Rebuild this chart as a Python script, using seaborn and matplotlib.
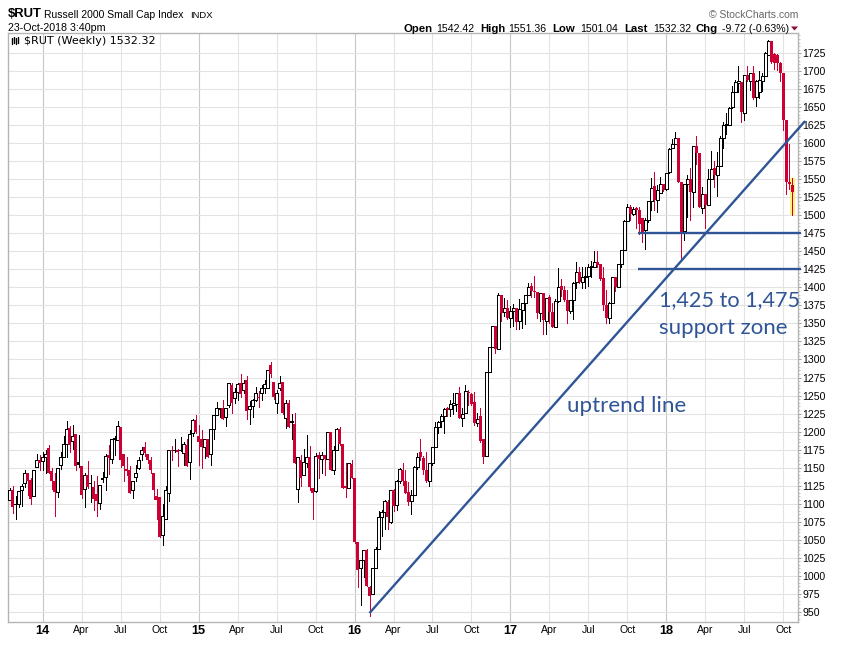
import numpy as np
import pandas as pd
import matplotlib
matplotlib.use("Agg")
import matplotlib.pyplot as plt
from matplotlib.ticker import MultipleLocator
from matplotlib.lines import Line2D
from matplotlib.patches import Polygon
import seaborn as sns

opens = [
1105,1119,1099,1100,1119,1128,1143,1133,1111,1151,
1161,1159,1164,1177,1145,1131,1116,1153,1165,1183,
1205,1187,1197,1158,1152,1120,1140,1129,1123,1113,
1101,1135,1137,1167,1162,1189,1188,1206,1169,1148,
1146,1119,1137,1149,1169,1178,1169,1161,1143,1111,
1109,1056,1079,1114,1175,1174,1174,1174,1170,1181,
1158,1198,1216,1194,1189,1179,1189,1169,1203,1223,
1231,1233,1220,1237,1265,1247,1255,1267,1258,1271,
1231,1236,1244,1248,1253,1260,1260,1292,1269,1240,
1260,1269,1219,1239,1213,1210,1120,1161,1140,1157,
1165,1122,1117,1167,1162,1167,1162,1200,1147,1175,
1203,1183,1124,1122,1155,1135,1047,1010,1021,1035,
984,974,1011,1037,1082,1088,1102,1074,1119,1098,
1131,1147,1132,1116,1104,1112,1151,1172,1163,1147,
1132,1156,1179,1206,1214,1221,1232,1231,1237,1238,
1253,1219,1226,1255,1252,1241,1212,1221,1189,1166,
1283,1318,1347,1315,1389,1366,1372,1357,1368,1372,
1353,1369,1378,1390,1402,1395,1394,1365,1392,1353,
1387,1366,1345,1381,1402,1397,1383,1368,1382,1407,
1422,1407,1414,1416,1429,1429,1436,1432,1413,1375,
1357,1378,1414,1401,1433,1452,1492,1511,1502,1510,
1508,1496,1480,1493,1520,1541,1522,1531,1544,1536,
1560,1593,1599,1608,1546,1479,1543,1550,1532,1597,
1587,1510,1530,1514,1551,1566,1556,1568,1607,1625,
1626,1650,1672,1684,1685,1642,1695,1687,1697,1664,
1672,1687,1694,1722,1742,1724,1723,1712,1698,1632,
1547,1542.42]
closes = [
1119,1095,1100,1117,1125,1143,1131,1107,1147,1161,
1156,1165,1169,1143,1131,1116,1150,1165,1183,1204,
1181,1194,1152,1154,1112,1139,1123,1127,1107,1104,
1126,1133,1166,1163,1189,1191,1208,1160,1152,1145,
1115,1132,1142,1161,1175,1170,1161,1146,1119,1105,
1054,1083,1119,1174,1173,1175,1172,1175,1183,1152,
1196,1216,1199,1185,1178,1189,1165,1204,1223,1232,
1233,1217,1233,1267,1240,1255,1266,1252,1268,1229,
1236,1244,1253,1246,1261,1266,1285,1280,1248,1253,
1268,1226,1239,1206,1214,1157,1164,1135,1158,1165,
1123,1115,1166,1162,1167,1162,1200,1146,1175,1203,
1183,1122,1121,1156,1135,1046,1008,1021,1036,985,
972,1011,1037,1082,1088,1103,1081,1119,1097,1132,
1148,1131,1115,1102,1112,1151,1165,1164,1146,1132,
1157,1178,1206,1213,1221,1231,1230,1238,1239,1253,
1219,1225,1256,1253,1238,1212,1218,1187,1164,1283,
1317,1347,1315,1389,1365,1372,1357,1368,1372,1352,
1370,1378,1389,1400,1395,1394,1365,1392,1355,1386,
1366,1345,1381,1401,1397,1382,1368,1382,1406,1422,
1407,1415,1416,1429,1430,1436,1431,1412,1375,1357,
1378,1414,1400,1432,1452,1492,1511,1502,1509,1507,
1488,1475,1493,1520,1538,1521,1535,1544,1535,1559,
1592,1599,1607,1546,1477,1544,1550,1532,1597,1586,
1511,1530,1514,1550,1564,1556,1569,1607,1626,1627,
1649,1672,1685,1686,1643,1695,1688,1697,1663,1687,
1688,1693,1726,1742,1713,1712,1711,1697,1632,1546,
1543,1532.32]
highs = [
1122,1124,1110,1117,1127,1147,1143,1135,1147,1169,
1167,1171,1174,1182,1149,1142,1150,1171,1194,1214,
1207,1209,1197,1195,1152,1142,1159,1139,1132,1138,
1126,1144,1169,1181,1189,1194,1214,1206,1169,1164,
1152,1132,1153,1165,1178,1185,1169,1164,1143,1120,
1109,1100,1124,1175,1180,1189,1176,1192,1185,1189,
1202,1218,1223,1209,1202,1189,1189,1204,1223,1241,
1233,1244,1233,1268,1268,1261,1267,1280,1271,1277,
1243,1245,1262,1256,1264,1272,1286,1296,1269,1258,
1277,1269,1244,1244,1225,1226,1165,1167,1176,1195,
1180,1122,1170,1172,1171,1167,1200,1200,1180,1205,
1206,1183,1156,1157,1161,1135,1047,1022,1036,1037,
985,1011,1040,1090,1091,1105,1105,1119,1120,1133,
1149,1157,1146,1130,1119,1152,1170,1190,1166,1172,
1157,1179,1213,1215,1225,1233,1234,1244,1253,1253,
1262,1233,1264,1257,1254,1255,1226,1232,1190,1283,
1317,1347,1347,1393,1389,1386,1382,1374,1377,1372,
1384,1378,1390,1406,1406,1416,1394,1393,1392,1386,
1389,1378,1384,1427,1412,1402,1397,1383,1407,1435,
1429,1429,1428,1432,1437,1450,1450,1433,1429,1396,
1380,1415,1414,1432,1452,1493,1516,1514,1512,1512,
1512,1496,1496,1520,1552,1560,1542,1553,1544,1559,
1593,1606,1616,1608,1546,1544,1556,1566,1597,1610,
1587,1540,1530,1564,1590,1576,1588,1610,1629,1642,
1651,1680,1688,1708,1685,1695,1708,1697,1708,1688,
1700,1697,1727,1743,1742,1726,1724,1713,1698,1632,
1599,1551.36]
lows = [
1105,1087,1079,1095,1097,1123,1112,1100,1111,1151,
1146,1146,1143,1142,1120,1083,1109,1148,1165,1165,
1171,1176,1146,1151,1108,1095,1122,1102,1091,1083,
1092,1130,1119,1141,1156,1168,1188,1151,1131,1139,
1114,1108,1131,1148,1161,1166,1156,1143,1107,1079,
1054,1042,1079,1104,1160,1171,1152,1173,1154,1152,
1134,1194,1198,1153,1150,1163,1165,1154,1190,1223,
1220,1217,1207,1234,1226,1240,1244,1248,1253,1217,
1211,1220,1243,1234,1244,1253,1260,1276,1245,1226,
1258,1225,1205,1206,1190,1156,1102,1125,1140,1151,
1119,1079,1116,1135,1143,1140,1162,1146,1141,1175,
1182,1122,1109,1121,1135,1045,984,959,998,985,
944,974,1011,1037,1055,1065,1065,1073,1090,1091,
1128,1126,1114,1098,1085,1112,1148,1161,1141,1130,
1125,1153,1179,1198,1206,1198,1221,1221,1225,1228,
1219,1207,1226,1237,1237,1209,1207,1186,1156,1166,
1283,1317,1309,1315,1354,1361,1356,1345,1346,1343,
1342,1344,1349,1389,1387,1387,1357,1354,1336,1335,
1350,1345,1345,1380,1388,1381,1351,1364,1356,1399,
1406,1399,1399,1402,1415,1429,1429,1411,1369,1351,
1351,1378,1395,1400,1428,1452,1492,1493,1500,1482,
1474,1463,1454,1491,1507,1507,1505,1531,1534,1535,
1559,1593,1599,1546,1438,1466,1498,1494,1512,1572,
1511,1503,1482,1514,1551,1540,1527,1568,1593,1613,
1625,1649,1672,1672,1630,1632,1687,1674,1662,1652,
1663,1673,1693,1722,1712,1703,1702,1687,1618,1530,
1537,1501.04]

tick_weeks = [11, 24, 37, 50, 63, 76, 89, 102, 115, 128, 141, 154, 167, 180, 193, 206, 219, 232, 245, 258]
tick_labels = ["14", "Apr", "Jul", "Oct", "15", "Apr", "Jul", "Oct", "16", "Apr", "Jul", "Oct",
               "17", "Apr", "Jul", "Oct", "18", "Apr", "Jul", "Oct"]
trend_weeks = [120.0, 265.2]
trend_prices = [948, 1631]
support_weeks = [209.6, 263.7]
support_levels = [1475, 1425]

RED = "#CC0033"
BLUE = "#2F5597"
GRID = "#E3E3E3"
YEARGRID = "#C8C8C8"
W, H = 841, 647
XLIM = (-0.367, 262.967)
YLIM = (935.2, 1752.8)

sns.set_theme(style="white")
plt.rcParams["font.family"] = ["Liberation Sans", "DejaVu Sans"]

opens, closes, highs, lows = map(np.array, (opens, closes, highs, lows))
weeks = np.arange(len(opens))
prev = np.r_[opens[0], closes[:-1]]
colors = np.where(closes >= prev, "black", RED)
filled = closes < opens

fig = plt.figure(figsize=(W / 100, H / 100), dpi=100, facecolor="white")
ax = fig.add_axes([8.4 / W, 1 - 622.3 / H, (798.4 - 8.4) / W, (622.3 - 33.3) / H])
ax.set_xlim(*XLIM)
ax.set_ylim(*YLIM)

# grid
ax.set_axisbelow(True)
ax.set_xticks(tick_weeks)
ax.set_xticks(weeks, minor=True)
ax.set_xticklabels(tick_labels)
ax.set_yticks(np.arange(950, 1726, 25))
ax.yaxis.set_minor_locator(MultipleLocator(5))
ax.yaxis.tick_right()
ax.grid(True, which="major", color=GRID, lw=0.8)
for gl, lab in zip(ax.get_xgridlines(), tick_labels):
    if lab.isdigit():
        gl.set_color(YEARGRID)
ax.tick_params(axis="y", which="major", length=2, width=0.7, color="#999999", pad=0.8,
               labelsize=7.6, labelcolor="black")
ax.tick_params(axis="y", which="minor", length=1.2, width=0.5, color="#AAAAAA")
ax.tick_params(axis="x", which="major", length=1.5, width=0.7, color="#AAAAAA", pad=0.6,
               labelsize=7.6, labelcolor="black")
ax.tick_params(axis="x", which="minor", length=1, width=0.5, color="#AAAAAA")
for lab in ax.get_xticklabels():
    if lab.get_text().isdigit():
        lab.set_fontweight("bold")
        lab.set_fontsize(9.2)
for s in ax.spines.values():
    s.set_color("#B4B4B4")
    s.set_linewidth(1.0)

# yellow highlight of the current bar
ax.bar(weeks[-1], highs[-1] - lows[-1], bottom=lows[-1], width=1.7, color="#FFF27A", lw=0, zorder=1.5)

# wicks
wicks = pd.DataFrame({
    "week": np.r_[weeks, weeks],
    "price": np.r_[highs, lows],
    "candle": np.r_[weeks, weeks],
    "tone": np.r_[colors, colors],
})
sns.lineplot(data=wicks, x="week", y="price", units="candle", estimator=None, hue="tone",
             palette={"black": "black", RED: RED}, lw=0.72, legend=False, ax=ax, zorder=2,
             solid_capstyle="butt", sort=False, antialiased=False)

# bodies
top = np.maximum(opens, closes)
bot = np.minimum(opens, closes)
ax.bar(weeks[~filled], (top - bot)[~filled], bottom=bot[~filled], width=0.67, facecolor="white",
       edgecolor=colors[~filled], lw=0.72, zorder=3, antialiased=False)
ax.bar(weeks[filled], (top - bot)[filled], bottom=bot[filled], width=1.0, facecolor=colors[filled],
       edgecolor="none", lw=0, zorder=3, antialiased=False)

# annotations
trend = pd.DataFrame({"week": trend_weeks, "price": trend_prices})
sns.lineplot(data=trend, x="week", y="price", color=BLUE, lw=1.7, ax=ax, zorder=4, clip_on=False,
             solid_capstyle="butt")
for level in support_levels:
    sup = pd.DataFrame({"week": support_weeks, "price": [level, level]})
    sns.lineplot(data=sup, x="week", y="price", color=BLUE, lw=1.7, ax=ax, zorder=4, clip_on=False,
                 solid_capstyle="butt")
ax.set_xlabel("")
ax.set_ylabel("")
ax.set_xlim(*XLIM)
ax.set_ylim(*YLIM)


def px(x, y, s, **kw):
    kw.setdefault("va", "center")
    kw.setdefault("ha", "left")
    kw.setdefault("color", "black")
    return fig.text(x / W, 1 - y / H, s, **kw)


px(567, 405.5, "uptrend line", family="Lato", fontsize=16.1, color=BLUE)
px(659, 300, "1,425 to 1,475", family="Lato", fontsize=15.6, color=BLUE)
px(659, 328, "support zone", family="Lato", fontsize=16, color=BLUE)

# header
px(8, 14, "$RUT", fontsize=9.4, fontweight="bold")
px(44.5, 14.5, "Russell 2000 Small Cap Index", fontsize=7.5)
px(190, 15, "INDX", fontsize=6.8)
px(8, 28, "23-Oct-2018 3:40pm", fontsize=7.7)
px(24, 41, "$RUT (Weekly) 1532.32", family="DejaVu Sans", fontsize=8.0)
px(798, 14.5, "\u00a9 StockCharts.com", ha="right", fontsize=7.5, color="#666666")

for x, s, bold in [(403, "Open", True), (436, "1542.42", False), (480, "High", True), (508, "1551.36", False),
                   (552, "Low", True), (580, "1501.04", False), (624, "Last", True), (653, "1532.32", False),
                   (696, "Chg", True), (722, "-9.72 (-0.63%)", False)]:
    px(x, 28.5, s, fontsize=8.2 if bold else 7.6, fontweight="bold" if bold else "normal")
fig.add_artist(Polygon([[791 / W, 1 - 26.5 / H], [798 / W, 1 - 26.5 / H], [794.5 / W, 1 - 30.5 / H]],
                       closed=True, transform=fig.transFigure, facecolor="#8B0A32", edgecolor="none"))
# small candle icon beside the chart label
for xi, y0, y1 in [(12, 38, 44), (14, 37, 43), (16, 38, 44), (18, 37, 43)]:
    fig.add_artist(Line2D([xi / W, xi / W], [1 - y0 / H, 1 - y1 / H], transform=fig.transFigure,
                          color="black", lw=1.0))

fig.savefig("out.png", dpi=100)
